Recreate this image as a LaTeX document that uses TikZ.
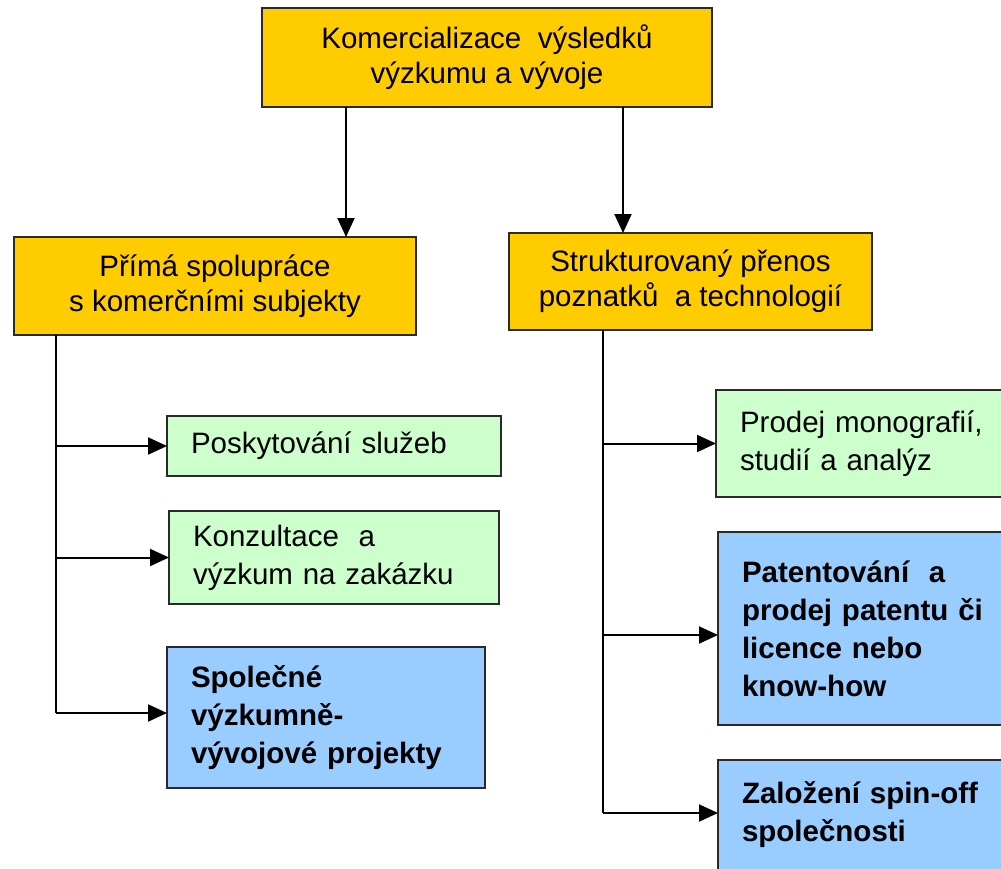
\documentclass[tikz,border=0pt]{standalone}
\usepackage{fontspec}
\setmainfont{Liberation Sans}
\usetikzlibrary{arrows.meta}
\definecolor{yel}{HTML}{FFCC00}
\definecolor{grn}{HTML}{CCFFCC}
\definecolor{blu}{HTML}{99CCFF}
\definecolor{edge}{HTML}{2A2A2A}
\tikzset{
  box/.style={draw=edge, line width=2pt, anchor=north west, outer sep=0pt, inner sep=0pt},
  ybox/.style={box, fill=yel, align=center, font=\fontsize{29.5}{35}\selectfont},
  lbox/.style={box, inner xsep=24pt, align=left, font=\fontsize{29.5}{38}\selectfont},
  gbox/.style={lbox, fill=grn},
  bbox/.style={lbox, fill=blu, font=\fontsize{29.5}{38}\selectfont\bfseries},
  arr/.style={line width=2pt, draw=black, -{Triangle[length=19pt,width=17pt]}},
  ln/.style={line width=2pt, draw=black}
}
\begin{document}
\begin{tikzpicture}[x=1pt,y=-1pt]
\useasboundingbox (0,0) rectangle (1001,868);
\clip (0,0) rectangle (1001,868);
% top and second level
\node[ybox, minimum width=450pt, minimum height=99pt] (top) at (262,8) {Komercializace\ \ výsledků\\výzkumu a vývoje};
\node[ybox, minimum width=402pt, minimum height=98pt] (left) at (14,237) {Přímá spolupráce\\s komerčními subjekty};
\node[ybox, minimum width=363pt, minimum height=97pt] (right) at (509,233) {Strukturovaný přenos\\poznatků\ \ a technologií};
% left branch
\node[gbox, text width=286pt, minimum height=60pt] (g1) at (167,416) {Poskytování služeb};
\node[gbox, text width=282pt, minimum height=93pt] (g2) at (169,511) {Konzultace\ \ a\\výzkum na zakázku};
\node[bbox, text width=270pt, minimum height=141pt] (b1) at (167,647) {Společné\\výzkumně-\\vývojové projekty};
% right branch
\node[gbox, text width=290pt, minimum height=107pt] (g3) at (716,390) {Prodej monografií,\\studií a analýz};
\node[bbox, text width=290pt, minimum height=193pt] (b2) at (718,532) {Patentování\ \ a\\prodej patentu či\\licence nebo\\know-how};
\node[bbox, text width=290pt, minimum height=140pt] (b3) at (718,760) {Založení spin-off\\společnosti\\\mbox{}};
% connectors
\coordinate (la) at (346,0);
\coordinate (ra) at (623,0);
\draw[arr] (top.south -| la) -- (left.north -| la);
\draw[arr] (top.south -| ra) -- (right.north -| ra);
\coordinate (lb) at (56,713);
\draw[ln] (left.south -| lb) -- (lb);
\draw[arr] (g1.west -| lb) -- (g1.west);
\draw[arr] (g2.west -| lb) -- (g2.west);
\draw[arr] (lb) -- (lb -| b1.west);
\coordinate (rb) at (603,813);
\coordinate (rm) at (603,635);
\draw[ln] (right.south -| rb) -- (rb);
\draw[arr] (g3.west -| rb) -- (g3.west);
\draw[arr] (rm) -- (rm -| b2.west);
\draw[arr] (rb) -- (rb -| b3.west);
\end{tikzpicture}
\end{document}
